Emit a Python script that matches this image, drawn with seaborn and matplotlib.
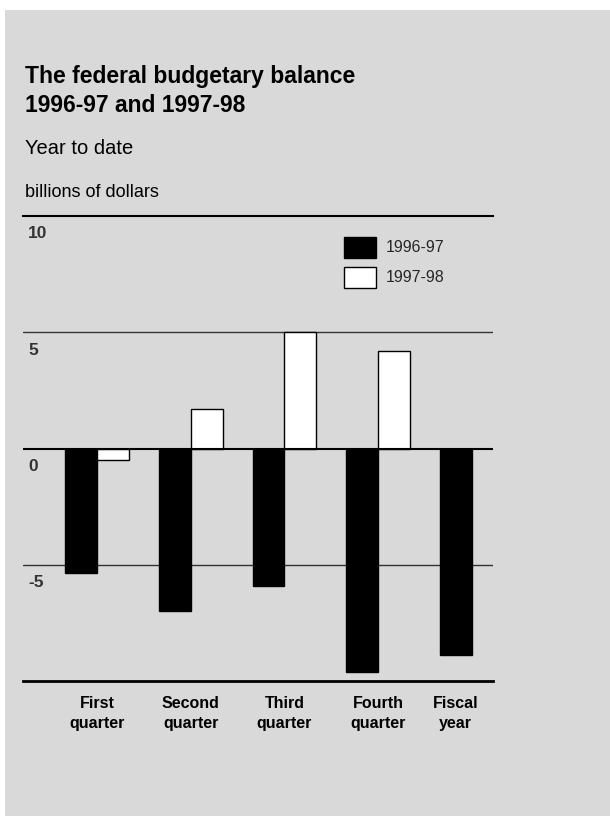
import numpy as np
import pandas as pd
import matplotlib
matplotlib.use("Agg")
import matplotlib.pyplot as plt
import matplotlib.transforms as mtransforms
from matplotlib.patches import Rectangle
import seaborn as sns

# ---- data ----
categories = ["First\nquarter", "Second\nquarter", "Third\nquarter", "Fourth\nquarter", "Fiscal\nyear"]
series_names = ["1996-97", "1997-98"]
values_9697 = [-5.35, -7.0, -5.9, -9.6, -8.9]
values_9798 = [-0.5, 1.7, 5.0, 4.2, np.nan]
y_ticks = [10, 5, 0, -5]
y_tick_labels = ["10", "5", "0", "-5"]

title_lines = ["The federal budgetary balance", "1996-97 and 1997-98"]
subtitle = "Year to date"
unit_label = "billions of dollars"

rows = []
for c, a, b in zip(categories, values_9697, values_9798):
    rows.append({"cat": c, "series": series_names[0], "value": a})
    if not np.isnan(b):
        rows.append({"cat": c, "series": series_names[1], "value": b})
df = pd.DataFrame(rows)

sns.set_theme(style="white")
plt.rcParams["font.family"] = ["Liberation Sans", "DejaVu Sans"]

BG = "#d9d9d9"
fig = plt.figure(figsize=(6.10, 8.16), dpi=100)
fig.patch.set_facecolor("white")
fig.patches.append(Rectangle((5 / 610, 0), 1, 1 - 10 / 816, transform=fig.transFigure,
                             facecolor=BG, edgecolor="none", zorder=-10))

ax = fig.add_axes([23 / 610, 1 - 681 / 816, 470 / 610, 465 / 816])
ax.set_facecolor("none")

sns.barplot(data=df, x="cat", y="value", hue="series", hue_order=series_names,
            order=categories, palette={"1996-97": "black", "1997-98": "white"},
            edgecolor="black", linewidth=1, width=0.683, gap=0, ax=ax,
            errorbar=None, zorder=3)

ax.set_xlim(-0.793, 4.227)
ax.set_ylim(-10, 10)
ax.set_xlabel("")
ax.set_ylabel("")
ax.set_yticks([])

for s in ["left", "right"]:
    ax.spines[s].set_visible(False)
ax.spines["top"].set_color("black")
ax.spines["top"].set_linewidth(1.5)
ax.spines["bottom"].set_color("black")
ax.spines["bottom"].set_linewidth(2)

for v in [5, -5]:
    ax.axhline(v, color="#333333", lw=1.0, zorder=1)
ax.axhline(0, color="black", lw=1.5, zorder=4)

for v, lab in zip(y_ticks, y_tick_labels):
    ax.annotate(lab, xy=(0.011, v), xycoords=("axes fraction", "data"),
                xytext=(0, -7.5), textcoords="offset points", va="top", ha="left",
                fontsize=12.5, fontweight="bold", color="#333333")

ax.tick_params(axis="x", length=0, pad=10.5)
for lab in ax.get_xticklabels():
    lab.set_fontsize(11.5)
    lab.set_fontweight("bold")
    lab.set_color("black")
    lab.set_linespacing(1.45)
last = ax.get_xticklabels()[-1]
last.set_transform(last.get_transform() + mtransforms.ScaledTranslation(-0.16, 0, fig.dpi_scale_trans))

leg = ax.legend(loc="upper left", bbox_to_anchor=(0.682, 0.9555), frameon=False,
                borderpad=0, fontsize=11.5, handlelength=2.05, handleheight=1.65,
                handletextpad=0.6, labelspacing=0.55, borderaxespad=0)
for h in leg.legend_handles:
    h.set_edgecolor("black")
    h.set_linewidth(1)

fig.text(25 / 610, 1 - 83.3 / 816, title_lines[0], fontsize=16.5, fontweight="bold",
         va="baseline", ha="left", color="black")
fig.text(25 / 610, 1 - 111.7 / 816, title_lines[1], fontsize=16.5, fontweight="bold",
         va="baseline", ha="left", color="black")
fig.text(25 / 610, 1 - 154 / 816, subtitle, fontsize=14.5, va="baseline", ha="left", color="black")
fig.text(25 / 610, 1 - 196.7 / 816, unit_label, fontsize=13, va="baseline", ha="left", color="black")

fig.savefig("out.png", dpi=100, facecolor=fig.get_facecolor())
